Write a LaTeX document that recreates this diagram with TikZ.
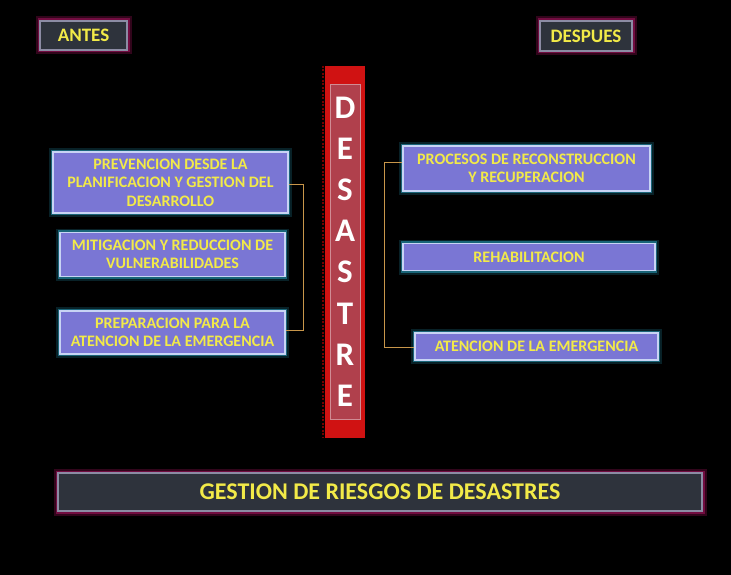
\documentclass[tikz,border=0pt]{standalone}
\usepackage{fontspec}
\setmainfont{Carlito}
\definecolor{boxfill}{HTML}{7A76D4}
\definecolor{boxedge}{HTML}{C8D4F4}
\definecolor{cyanglow}{HTML}{2FB8DC}
\definecolor{txtyel}{HTML}{F2EA48}
\definecolor{darkfill}{HTML}{2E333C}
\definecolor{darkedge}{HTML}{8C8CA4}
\definecolor{magglow}{HTML}{8E1050}
\definecolor{barred}{HTML}{D01212}
\definecolor{barinner}{HTML}{B0404C}
\definecolor{conncol}{HTML}{C8964A}
\tikzset{
  stepbox/.style={rectangle, inner sep=0pt, fill=boxfill, draw=boxedge, line width=1.2pt,
    preaction={draw=cyanglow, line width=8pt, opacity=0.18},
    preaction={draw=cyanglow, line width=4.5pt, opacity=0.45},
    text=txtyel, font=\fontsize{16}{18.5}\selectfont\bfseries, align=center},
  darkbox/.style={rectangle, inner sep=0pt, fill=darkfill, draw=darkedge, line width=1.2pt,
    preaction={draw=magglow, line width=9pt, opacity=0.35},
    preaction={draw=magglow, line width=5pt, opacity=0.7},
    text=txtyel, font=\bfseries},
  conn/.style={draw=conncol, line width=1.5pt},
}
\begin{document}
\begin{tikzpicture}[x=1pt,y=-1pt]
\fill[black] (0,0) rectangle (731,575);
\useasboundingbox (0,0) rectangle (731,575);
% header boxes
\node[darkbox, minimum width=87pt, minimum height=29pt, font=\fontsize{19}{22}\selectfont\bfseries] (antes) at (83.5,35.5) {ANTES};
\node[darkbox, minimum width=92pt, minimum height=30pt, font=\fontsize{19}{22}\selectfont\bfseries] (despues) at (586,36) {DESPUES};
% central bar
\node[rectangle, inner sep=0pt, fill=barred, minimum width=40pt, minimum height=372pt] (bar) at (345,252) {};
\draw[dashed, draw=black!55!red, line width=2pt, dash pattern=on 2pt off 1.5pt] ([xshift=-2pt]bar.north west) -- ([xshift=-2pt]bar.south west);
\node[rectangle, inner sep=0pt, fill=barinner, draw=barinner!60!white, line width=0.8pt, minimum width=30pt, minimum height=335pt] (inner) at (345,251.5) {};
\node[text=white, font=\fontsize{33}{41.2}\selectfont\bfseries, align=center, inner sep=0pt] (word) at (inner.center) {D\\E\\S\\A\\S\\T\\R\\E};
% left boxes
\node[stepbox, minimum width=235pt, minimum height=61pt] (p1) at (170.5,182.5) {PREVENCION DESDE LA\\PLANIFICACION Y GESTION DEL\\DESARROLLO};
\node[stepbox, minimum width=225pt, minimum height=44pt] (p2) at (172.5,254.5) {MITIGACION Y REDUCCION DE\\VULNERABILIDADES};
\node[stepbox, minimum width=225pt, minimum height=43pt] (p3) at (172.5,332.5) {PREPARACION PARA LA\\ATENCION DE LA EMERGENCIA};
% right boxes
\node[stepbox, minimum width=247pt, minimum height=45pt] (r1) at (526.5,168.5) {PROCESOS DE RECONSTRUCCION\\Y RECUPERACION};
\node[stepbox, minimum width=252pt, minimum height=27pt] (r2) at (529,257) {REHABILITACION};
\node[stepbox, minimum width=243pt, minimum height=27pt] (r3) at (536.5,346.5) {ATENCION DE LA EMERGENCIA};
% connectors
\draw[conn] ([yshift=-2pt]p1.east) -- ++(15,0) |- ([yshift=2pt]p3.east);
\draw[conn] ([yshift=6pt]r1.west) -- ++(-18,0) |- ([yshift=-1pt]r3.west);
% bottom bar
\node[darkbox, minimum width=644pt, minimum height=38pt, font=\fontsize{24}{28}\selectfont\bfseries] (gest) at (380,492) {GESTION DE RIESGOS DE DESASTRES};
\end{tikzpicture}
\end{document}
